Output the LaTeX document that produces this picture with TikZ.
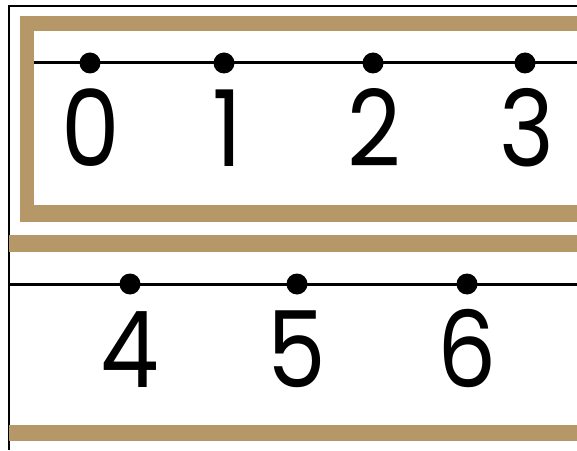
\documentclass[tikz,border=0pt]{standalone}
\usepackage{fontspec}
\setmainfont{Poppins}
\usepackage{xcolor}
\usepackage{tikz}
\usetikzlibrary{positioning}
\definecolor{burlap}{RGB}{182,151,104}
\tikzset{
  band/.style={fill=burlap, draw=none},
  numline/.style={line width=3pt, black},
  tick/.style={circle, fill=black, inner sep=0pt, minimum size=21pt},
  digit/.style={anchor=base, inner sep=0pt, xscale=0.88, font=\fontsize{106}{110}\selectfont}
}

\begin{document}
\begin{tikzpicture}[x=1pt, y=1pt]
  \useasboundingbox (0,0) rectangle (577,450);
  \fill[white] (0,0) rectangle (577,450);
  % card edge
  \draw[line width=1.5pt] (9,0) -- (9,444) -- (577,444);
  % top frame
  \fill[band] (20,228) rectangle (577,434);
  \fill[white] (34,245) rectangle (577,419);
  % lower strips
  \fill[band] (9,198) rectangle (577,215);
  \fill[band] (9,9) rectangle (577,25);

  % first strip: 0 to 3
  \coordinate (a0) at (34,387);
  \coordinate (a1) at (577,387);
  \draw[numline] (a0) -- (a1);
  \node[tick] (t0) at (90,387) {};
  \node[tick] (t1) at (224,387) {};
  \node[tick] (t2) at (373,387) {};
  \node[tick] (t3) at (525,387) {};
  \node[digit] (n0) at (91,283) {0};
  \node[digit] (n1) at (227,283) {1};
  \node[digit] (n2) at (374,283) {2};
  \node[digit] (n3) at (527,283) {3};

  % second strip: 4 to 6
  \coordinate (b0) at (9,166);
  \coordinate (b1) at (577,166);
  \draw[numline] (b0) -- (b1);
  \node[tick] (t4) at (130,166) {};
  \node[tick] (t5) at (297,166) {};
  \node[tick] (t6) at (467,166) {};
  \node[digit] (n4) at (130,63) {4};
  \node[digit] (n5) at (297,63) {5};
  \node[digit] (n6) at (467,63) {6};
\end{tikzpicture}
\end{document}
